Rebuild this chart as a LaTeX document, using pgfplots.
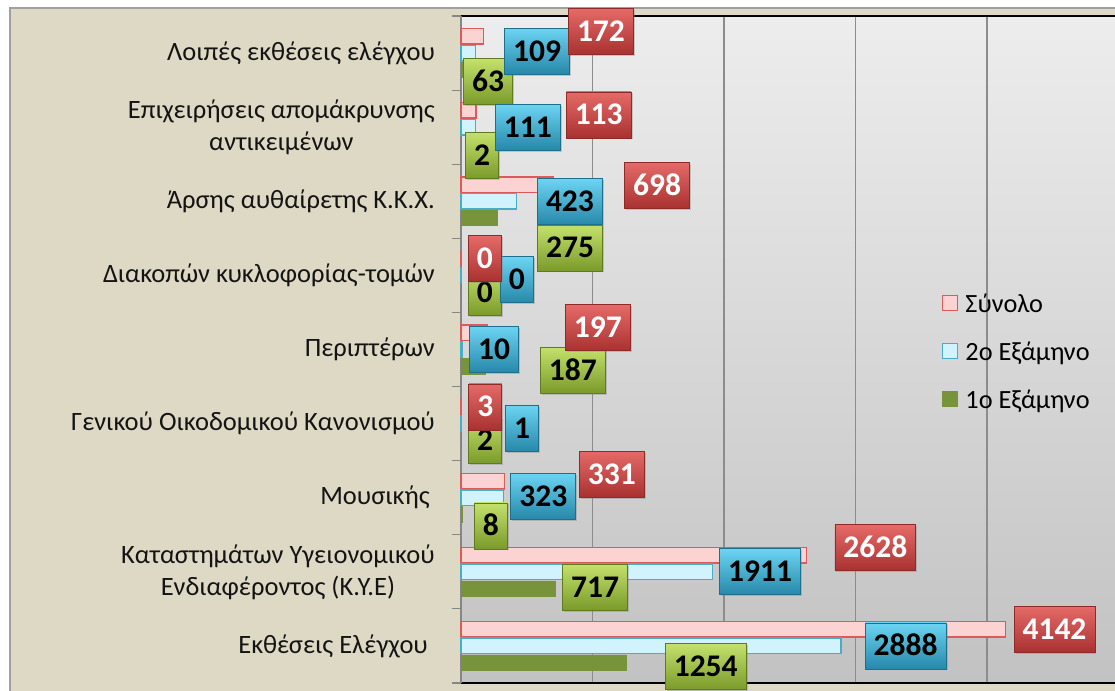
\documentclass[border=0pt]{standalone}
\usepackage{fontspec}
\setmainfont{Carlito}
\usepackage{pgfplots}
\pgfplotsset{compat=1.18}
\usepackage{pgfplotstable}
\usetikzlibrary{shadows}

\definecolor{beige}{HTML}{DDD9C4}
\definecolor{framegray}{HTML}{A0A0A0}
\definecolor{bgtop}{HTML}{EDEDED}
\definecolor{bgbot}{HTML}{C2C2C2}
\definecolor{gridgray}{HTML}{8C8C8C}
\definecolor{axisgray}{HTML}{868686}
\definecolor{pinkfill}{HTML}{FCD3D3}
\definecolor{pinkdraw}{HTML}{DC5A5A}
\definecolor{cyanfill}{HTML}{D0F3FD}
\definecolor{cyandraw}{HTML}{4BACC6}
\definecolor{greenfill}{HTML}{77933C}
\definecolor{redtop}{HTML}{E56A68}
\definecolor{redmid}{HTML}{C8403D}
\definecolor{redbot}{HTML}{A83230}
\definecolor{redline}{HTML}{8E2A28}
\definecolor{cyantop}{HTML}{6CD4F2}
\definecolor{cyanmid}{HTML}{33A7CE}
\definecolor{cyanbot}{HTML}{2788AA}
\definecolor{cyanline}{HTML}{1F6F8A}
\definecolor{greentop}{HTML}{C4E16C}
\definecolor{greenmid}{HTML}{9CBC3C}
\definecolor{greenbot}{HTML}{7A9A2A}
\definecolor{greenline}{HTML}{607A20}

\tikzset{
  lblbase/.style={rectangle, inner xsep=8.5pt, inner ysep=0pt,
    minimum height=46pt, text height=20pt, text depth=0pt, line width=0.8pt,
    font=\fontsize{31.5}{32}\selectfont\bfseries,
    drop shadow={shadow xshift=1.5pt, shadow yshift=-1.5pt, opacity=0.35}},
  lblred/.style={lblbase, top color=redtop, middle color=redmid, bottom color=redbot, draw=redline, text=white},
  lblcyan/.style={lblbase, top color=cyantop, middle color=cyanmid, bottom color=cyanbot, draw=cyanline, text=black},
  lblgreen/.style={lblbase, top color=greentop, middle color=greenmid, bottom color=greenbot, draw=greenline, text=black},
}

% y: category index (0 = bottom); g = 1o, c = 2o, r = total
% dx: label offset right of bar end (px), up: label offset upward (px)
\pgfplotstableread{
y g c r gdx gup cdx cup rdx rup
0 1254 2888 4142 39 -4 24 0 8 0
1 717 1911 2628 7 1.5 7 0 28 7.5
2 8 323 331 12 -11.5 7 1.5 74.5 7
3 2 1 3 7 0 44 -4.5 7 0
4 187 10 197 54.5 -4 7 0 78 5
5 0 0 0 7 -0.5 39 -4.5 7 0
6 275 423 698 40 -30 20.5 -0.5 71.5 -1
7 2 111 113 4 -11.5 19.5 0 90 -4.5
8 63 109 172 -6 -12 29 2 84.5 5
}\data

\begin{document}
\begin{tikzpicture}
\useasboundingbox (0,0) rectangle (1115pt,690pt);
\clip (0,0) rectangle (1115pt,690pt);
\fill[white] (0,0) rectangle (1115pt,690pt);
\filldraw[fill=beige, draw=framegray, line width=1.5pt] (10pt,-20pt) rectangle (1140pt,682pt);
\begin{axis}[
  at={(461pt,7pt)}, anchor=south west,
  scale only axis, width=657.5pt, height=667pt,
  xmin=0, xmax=5000, ymin=-0.5, ymax=8.5,
  xbar, bar width=15.5pt,
  axis background/.style={shade, top color=bgtop, bottom color=bgbot},
  xtick={1000,2000,3000,4000}, xticklabels={}, xtick style={draw=none},
  xmajorgrids, grid style={draw=gridgray, line width=1.5pt},
  ytick={0,...,8},
  yticklabels={
    {Εκθέσεις Ελέγχου\hspace*{7pt}},
    {Καταστημάτων Υγειονομικού\\Ενδιαφέροντος (Κ.Υ.Ε)},
    {Μουσικής\hspace*{5pt}},
    {Γενικού Οικοδομικού Κανονισμού},
    {Περιπτέρων},
    {Διακοπών κυκλοφορίας-τομών},
    {Άρσης αυθαίρετης Κ.Κ.Χ.},
    {Επιχειρήσεις απομάκρυνσης\\αντικειμένων},
    {Λοιπές εκθέσεις ελέγχου}},
  ytick style={draw=none},
  extra y ticks={-0.5,0.5,...,8.5}, extra y tick labels={},
  extra y tick style={grid=none, ytick style={draw=axisgray, line width=1.2pt}},
  major tick length=9pt, tick align=outside, tick pos=left,
  separate axis lines,
  x axis line style={draw=black, line width=1.8pt},
  y axis line style={draw=axisgray, line width=1.5pt},
  yticklabel style={font=\fontsize{26.5}{32}\selectfont, align=center, inner sep=0pt, xshift=-17pt, text=black!92},
  clip=false,
  legend cell align=left,
  legend style={at={(axis description cs:0.732,0.583)}, anchor=north west,
    draw=none, fill=none, inner sep=0pt, outer sep=0pt,
    font=\fontsize{26.3}{28}\selectfont, row sep=30pt, column sep=7pt,
    nodes={inner sep=0pt, text height=18pt, text depth=0pt}},
  legend image code/.code={\draw[#1,/tikz/.cd,line width=1.2pt] (0pt,-7.5pt) rectangle (15pt,7.5pt);},
]
% bars
\addplot[bar shift=16.7pt, fill=pinkfill, draw=pinkdraw, line width=1.5pt] table[x=r, y=y] {\data};
\addlegendentry{Σύνολο}
\addplot[bar shift=0pt, fill=cyanfill, draw=cyandraw, line width=1.5pt] table[x=c, y=y] {\data};
\addlegendentry{2ο Εξάμηνο}
\addplot[bar shift=-16.7pt, fill=greenfill, draw=greenfill, line width=0.5pt] table[x=g, y=y] {\data};
\addlegendentry{1ο Εξάμηνο}
% data labels
\addplot[forget plot, bar shift=-16.7pt, draw=none, fill=none,
  point meta=explicit symbolic,
  visualization depends on={\thisrow{gdx}\as\dx},
  visualization depends on={\thisrow{gup}\as\dup},
  nodes near coords={\pgfplotspointmeta},
  every node near coord/.append style={lblgreen, anchor=west, xshift=\dx pt, yshift=\dup pt}]
  table[x=g, y=y, meta=g] {\data};
\addplot[forget plot, bar shift=0pt, draw=none, fill=none,
  point meta=explicit symbolic,
  visualization depends on={\thisrow{cdx}\as\dx},
  visualization depends on={\thisrow{cup}\as\dup},
  nodes near coords={\pgfplotspointmeta},
  every node near coord/.append style={lblcyan, anchor=west, xshift=\dx pt, yshift=\dup pt}]
  table[x=c, y=y, meta=c] {\data};
\addplot[forget plot, bar shift=16.7pt, draw=none, fill=none,
  point meta=explicit symbolic,
  visualization depends on={\thisrow{rdx}\as\dx},
  visualization depends on={\thisrow{rup}\as\dup},
  nodes near coords={\pgfplotspointmeta},
  every node near coord/.append style={lblred, anchor=west, xshift=\dx pt, yshift=\dup pt}]
  table[x=r, y=y, meta=r] {\data};
\end{axis}
\end{tikzpicture}
\end{document}
